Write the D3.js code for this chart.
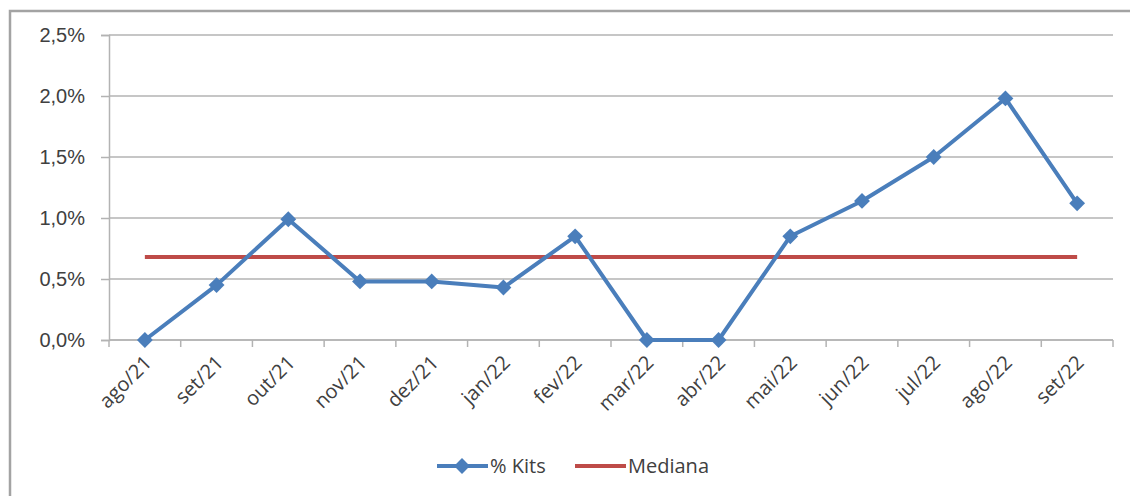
<!DOCTYPE html>
<html>
<head>
<meta charset="utf-8">
<script src="https://cdn.jsdelivr.net/npm/d3@7"></script>
<style>
  body { margin: 0; background: #fff; }
  svg { display: block; font-family: "Open Sans", sans-serif; }
</style>
</head>
<body>
<svg width="1130" height="496"></svg>
<script>
const months = ["ago/21", "set/21", "out/21", "nov/21", "dez/21", "jan/22", "fev/22",
	"mar/22", "abr/22", "mai/22", "jun/22", "jul/22", "ago/22", "set/22"]
const kits = [0, 0.45, 0.99, 0.48, 0.48, 0.43, 0.85, 0, 0, 0.85, 1.14, 1.50, 1.98, 1.12]
const mediana = [0.68, 0.68, 0.68, 0.68, 0.68, 0.68, 0.68, 0.68, 0.68, 0.68, 0.68, 0.68, 0.68, 0.68]
const yTicks = [0, 0.5, 1.0, 1.5, 2.0, 2.5]

const margin = { top: 35, right: 17, left: 109, bottom: 156 }
const svg = d3.select("svg")
const width = +svg.attr("width") - margin.left - margin.right
const height = +svg.attr("height") - margin.top - margin.bottom

const blue = "#4a7ebb"
const red = "#be4b48"
const textColor = "#404040"
const gridColor = "#b3b3b3"
const fontSize = "20px"

// outer chart frame
svg.append("rect")
	.attr("x", 10).attr("y", 11)
	.attr("width", 1140).attr("height", 520)
	.attr("fill", "none")
	.attr("stroke", "#a3a3a3")
	.attr("stroke-width", 2.5)

const graph = svg.append("g")
	.attr("transform", `translate(${margin.left}, ${margin.top})`)

const x = d3.scaleBand().domain(months).range([0, width])
const y = d3.scaleLinear().domain([0, 2.5]).range([height, 0])

// gridlines
graph.append("g")
	.selectAll("line")
	.data(yTicks)
	.join("line")
	.attr("x1", 0).attr("x2", width)
	.attr("y1", (d) => y(d)).attr("y2", (d) => y(d))
	.attr("stroke", gridColor)
	.attr("stroke-width", 1.5)

const fmt = (d) => d.toFixed(1).replace(".", ",") + "%"

const yAxis = d3.axisLeft(y).tickValues(yTicks).tickFormat(fmt).tickSize(8).tickPadding(16)
const yAxisGroup = graph.append("g").call(yAxis)
yAxisGroup.select(".domain").attr("stroke", gridColor).attr("stroke-width", 1.5)
yAxisGroup.selectAll(".tick line").attr("stroke", gridColor).attr("stroke-width", 1.5)
yAxisGroup.selectAll(".tick text")
	.attr("fill", textColor)
	.style("font-size", fontSize)

// x axis: ticks at category boundaries
const xAxisGroup = graph.append("g").attr("transform", `translate(0, ${height})`)
xAxisGroup.append("line")
	.attr("x1", 0).attr("x2", width)
	.attr("stroke", gridColor).attr("stroke-width", 1.5)
xAxisGroup.selectAll(".bound")
	.data(months.concat([null]))
	.join("line")
	.attr("class", "bound")
	.attr("x1", (d, i) => i * x.step()).attr("x2", (d, i) => i * x.step())
	.attr("y1", 0).attr("y2", 7)
	.attr("stroke", gridColor).attr("stroke-width", 1.5)
xAxisGroup.selectAll(".lbl")
	.data(months)
	.join("text")
	.attr("class", "lbl")
	.attr("text-anchor", "end")
	.attr("fill", textColor)
	.style("font-size", fontSize)
	.attr("transform", (d) => `translate(${x(d) + x.bandwidth() / 2 + 8}, 24) rotate(-45)`)
	.text((d) => d)

const cx = (d, i) => x(months[i]) + x.bandwidth() / 2

// median line
graph.append("path")
	.datum(mediana)
	.attr("fill", "none")
	.attr("stroke", red)
	.attr("stroke-width", 4)
	.attr("d", d3.line().x(cx).y((d) => y(d)))

// kits line
graph.append("path")
	.datum(kits)
	.attr("fill", "none")
	.attr("stroke", blue)
	.attr("stroke-width", 4)
	.attr("stroke-linejoin", "round")
	.attr("d", d3.line().x(cx).y((d) => y(d)))

const diamond = d3.symbol().type(d3.symbolDiamond2).size(160)
graph.selectAll(".pt")
	.data(kits)
	.join("path")
	.attr("class", "pt")
	.attr("d", diamond)
	.attr("transform", (d, i) => `translate(${cx(d, i)}, ${y(d)})`)
	.attr("fill", blue)

// legend
const legend = svg.append("g").attr("transform", "translate(0, 466)")
legend.append("line")
	.attr("x1", 437).attr("x2", 488)
	.attr("stroke", blue).attr("stroke-width", 4)
legend.append("path")
	.attr("d", diamond)
	.attr("transform", "translate(462, 0)")
	.attr("fill", blue)
legend.append("text")
	.attr("x", 490).attr("y", 7)
	.attr("fill", textColor)
	.style("font-size", fontSize)
	.text("% Kits")
legend.append("line")
	.attr("x1", 575).attr("x2", 626)
	.attr("stroke", red).attr("stroke-width", 4)
legend.append("text")
	.attr("x", 628).attr("y", 7)
	.attr("fill", textColor)
	.style("font-size", fontSize)
	.text("Mediana")
</script>
</body>
</html>
